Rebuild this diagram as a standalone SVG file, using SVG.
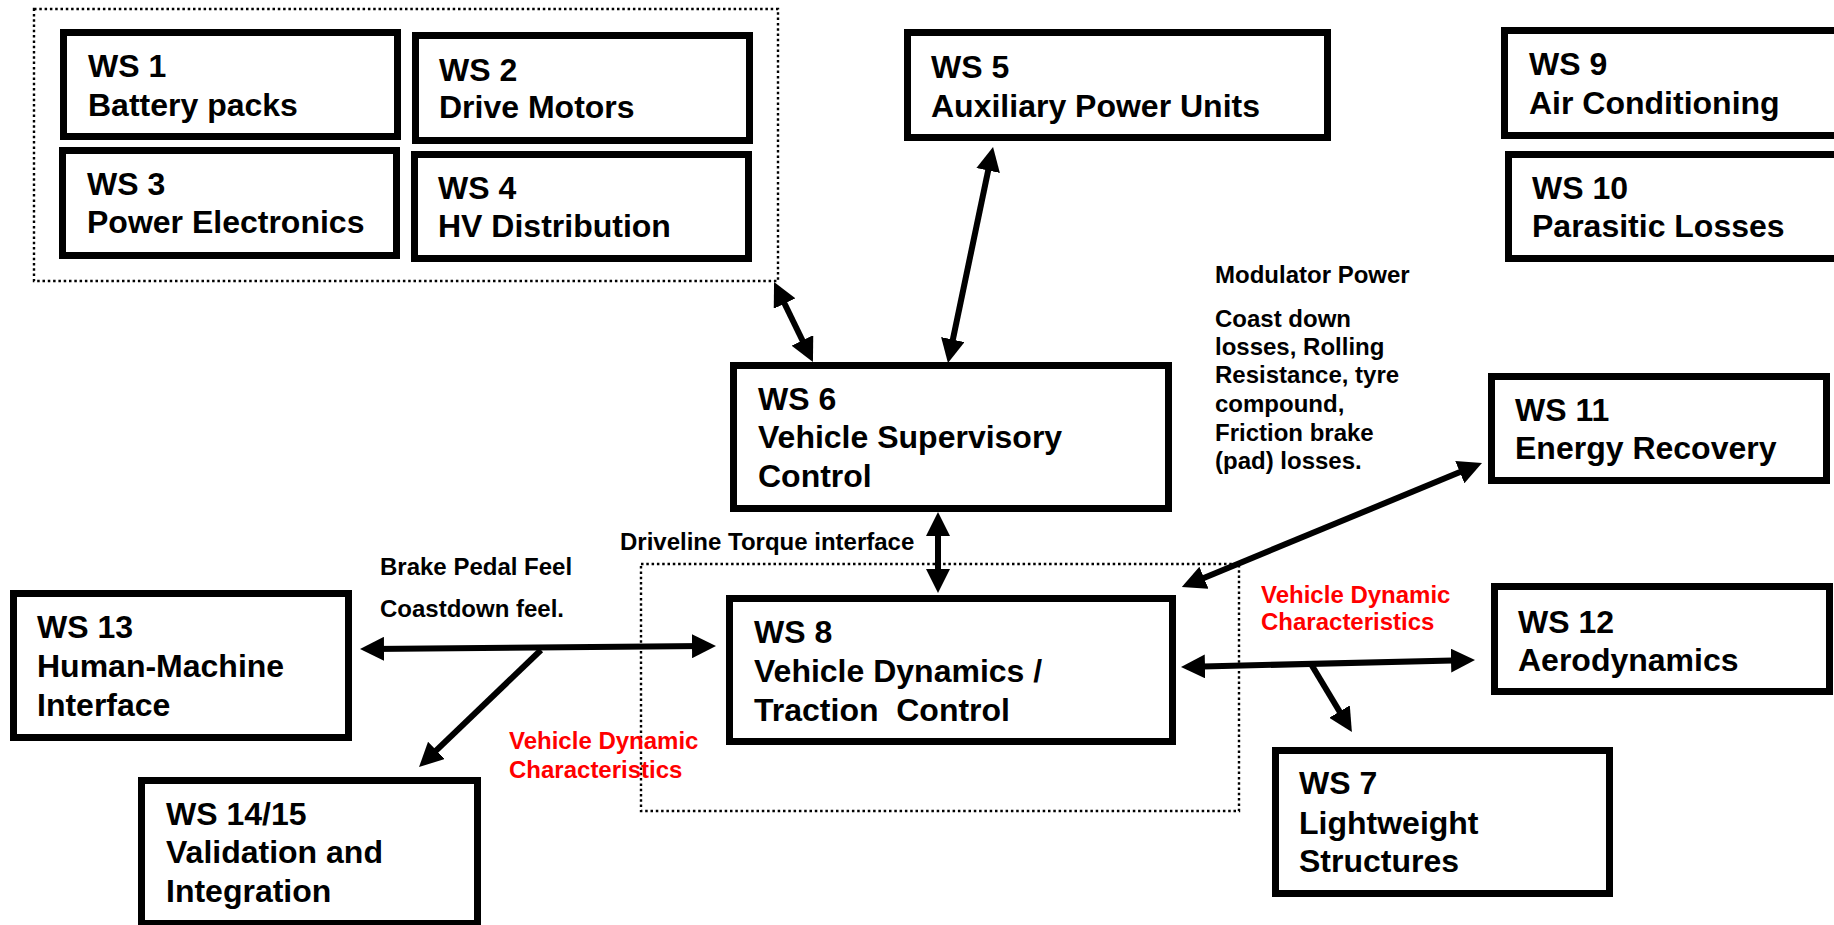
<svg xmlns="http://www.w3.org/2000/svg" width="1834" height="925" viewBox="0 0 1834 925">
<style>
.box{fill:#fff;stroke:#000;stroke-width:7}
.t{font-family:"Liberation Sans",Arial,sans-serif;font-weight:bold;font-size:32px;fill:#000}
.s{font-family:"Liberation Sans",Arial,sans-serif;font-weight:bold;font-size:24px;fill:#000}
.r{fill:#ff0000}
.dot{fill:none;stroke:#000;stroke-width:2.4;stroke-dasharray:2.5 2.8}
.c{stroke:#000;stroke-width:6;fill:none}
.d{marker-start:url(#ah);marker-end:url(#ah)}
.e{marker-end:url(#ah)}
</style>
<defs>
<marker id="ah" markerUnits="userSpaceOnUse" viewBox="0 0 24 24" markerWidth="24" markerHeight="24" refX="12" refY="12" orient="auto-start-reverse">
<path d="M0,0 L24,12 L0,24 z" fill="#000"/>
</marker>
</defs>
<rect width="1834" height="925" fill="#fff"/>
<g id="groups">
<rect class="dot" x="34" y="9" width="744" height="272"/>
<rect class="dot" x="641" y="564" width="598" height="247"/>
</g>
<g id="ws1"><rect class="box" x="63.5" y="32.5" width="334" height="104"/><text class="t" x="88" y="77">WS 1</text><text class="t" x="88" y="116">Battery packs</text></g>
<g id="ws2"><rect class="box" x="415.5" y="35.5" width="334" height="105"/><text class="t" x="439" y="81">WS 2</text><text class="t" x="439" y="118">Drive Motors</text></g>
<g id="ws3"><rect class="box" x="62.5" y="150.5" width="334" height="105"/><text class="t" x="87" y="195">WS 3</text><text class="t" x="87" y="233">Power Electronics</text></g>
<g id="ws4"><rect class="box" x="414.5" y="154.5" width="334" height="104"/><text class="t" x="438" y="199">WS 4</text><text class="t" x="438" y="237">HV Distribution</text></g>
<g id="ws5"><rect class="box" x="907.5" y="32.5" width="420" height="105"/><text class="t" x="931" y="78">WS 5</text><text class="t" x="931" y="117">Auxiliary Power Units</text></g>
<g id="ws9"><rect class="box" x="1504.5" y="30.5" width="340" height="105"/><text class="t" x="1529" y="75">WS 9</text><text class="t" x="1529" y="114">Air Conditioning</text></g>
<g id="ws10"><rect class="box" x="1508.5" y="154.5" width="340" height="104"/><text class="t" x="1532" y="199">WS 10</text><text class="t" x="1532" y="237">Parasitic Losses</text></g>
<g id="ws6"><rect class="box" x="733.5" y="365.5" width="435" height="143"/><text class="t" x="758" y="410">WS 6</text><text class="t" x="758" y="448">Vehicle Supervisory</text><text class="t" x="758" y="487">Control</text></g>
<g id="ws11"><rect class="box" x="1491.5" y="376.5" width="335" height="104"/><text class="t" x="1515" y="421">WS 11</text><text class="t" x="1515" y="459">Energy Recovery</text></g>
<g id="ws8"><rect class="box" x="729.5" y="598.5" width="443" height="143"/><text class="t" x="754" y="643">WS 8</text><text class="t" x="754" y="682">Vehicle Dynamics /</text><text class="t" x="754" y="721" xml:space="preserve">Traction  Control</text></g>
<g id="ws12"><rect class="box" x="1494.5" y="586.5" width="335" height="105"/><text class="t" x="1518" y="633">WS 12</text><text class="t" x="1518" y="671">Aerodynamics</text></g>
<g id="ws7"><rect class="box" x="1275.5" y="750.5" width="334" height="143"/><text class="t" x="1299" y="794">WS 7</text><text class="t" x="1299" y="834">Lightweight</text><text class="t" x="1299" y="872">Structures</text></g>
<g id="ws13"><rect class="box" x="13.5" y="593.5" width="335" height="144"/><text class="t" x="37" y="638">WS 13</text><text class="t" x="37" y="677">Human-Machine</text><text class="t" x="37" y="716">Interface</text></g>
<g id="ws1415"><rect class="box" x="141.5" y="780.5" width="336" height="143"/><text class="t" x="166" y="825">WS 14/15</text><text class="t" x="166" y="863">Validation and</text><text class="t" x="166" y="902">Integration</text></g>
<g id="connectors">
<line class="c d" x1="779.3" y1="292.8" x2="807.7" y2="351.2"/>
<line class="c d" x1="990.6" y1="158.8" x2="950.4" y2="351.3"/>
<line class="c d" x1="938" y1="524" x2="938" y2="581"/>
<line class="c d" x1="1470.9" y1="467.6" x2="1192.9" y2="582.4"/>
<line class="c d" x1="1193" y1="666.7" x2="1463" y2="660.3"/>
<line class="c e" x1="1311" y1="664" x2="1345.7" y2="721.8"/>
<line class="c d" x1="372" y1="648.9" x2="704" y2="646.1"/>
<line class="c e" x1="541" y1="650" x2="427.7" y2="758.7"/>
</g>
<g id="labels">
<text class="s" x="1215" y="283">Modulator Power</text>
<text class="s" x="1215" y="327">Coast down</text>
<text class="s" x="1215" y="355">losses, Rolling</text>
<text class="s" x="1215" y="383">Resistance, tyre</text>
<text class="s" x="1215" y="412">compound,</text>
<text class="s" x="1215" y="441">Friction brake</text>
<text class="s" x="1215" y="469">(pad) losses.</text>
<text class="s" x="620" y="550">Driveline Torque interface</text>
<text class="s" x="380" y="575">Brake Pedal Feel</text>
<text class="s" x="380" y="617">Coastdown feel.</text>
<text class="s r" x="509" y="749">Vehicle Dynamic</text>
<text class="s r" x="509" y="778">Characteristics</text>
<text class="s r" x="1261" y="603">Vehicle Dynamic</text>
<text class="s r" x="1261" y="630">Characteristics</text>
</g>
</svg>
